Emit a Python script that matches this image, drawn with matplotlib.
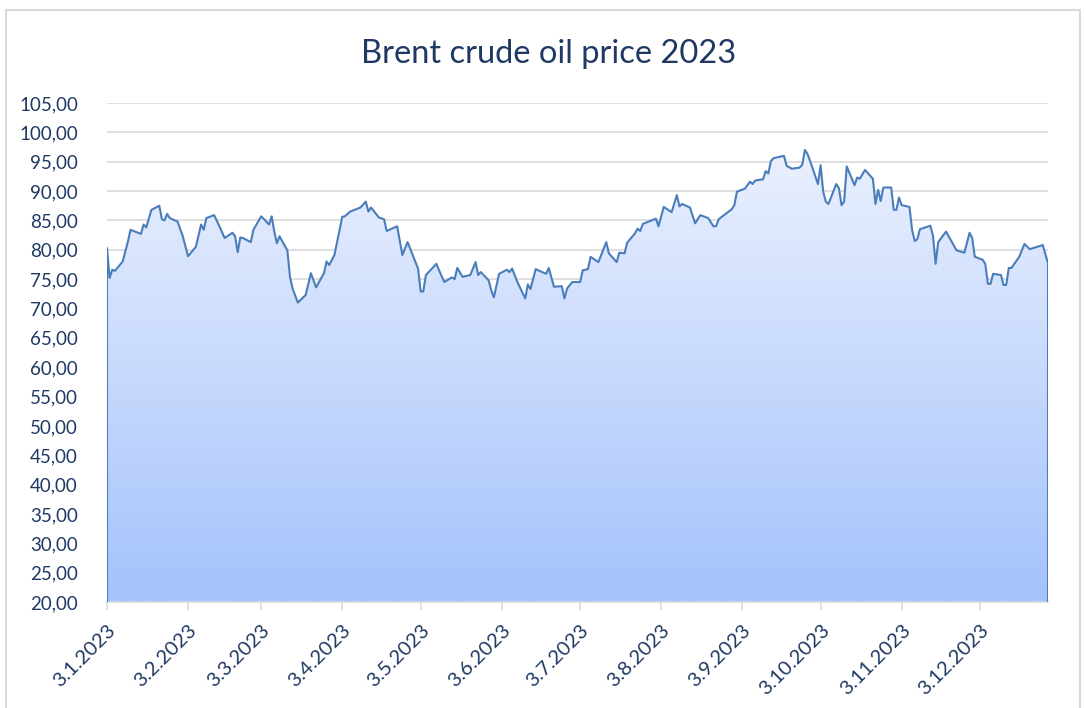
import matplotlib
matplotlib.use('Agg')
import matplotlib.pyplot as plt
import matplotlib.dates as mdates
import matplotlib.patches as mpatches
from matplotlib.colors import LinearSegmentedColormap
import numpy as np
import pandas as pd

plt.rcParams['font.family'] = ['Lato', 'DejaVu Sans']

# === Data ===
dates = [
    '01-03', '01-04', '01-05', '01-06', '01-09', '01-11', '01-12', '01-16', '01-17', '01-18',
    '01-20', '01-23', '01-24', '01-25', '01-26', '01-27', '01-30', '02-01', '02-03', '02-06',
    '02-08', '02-09', '02-10', '02-13', '02-15', '02-17', '02-20', '02-21', '02-22', '02-23',
    '02-24', '02-27', '02-28', '03-03', '03-06', '03-07', '03-08', '03-09', '03-10', '03-13',
    '03-14', '03-15', '03-17', '03-20', '03-22', '03-24', '03-27', '03-28', '03-29', '03-31',
    '04-03', '04-04', '04-06', '04-10', '04-12', '04-13', '04-14', '04-17', '04-19', '04-20',
    '04-24', '04-26', '04-28', '05-02', '05-03', '05-04', '05-05', '05-09', '05-12', '05-15',
    '05-16', '05-17', '05-19', '05-22', '05-24', '05-25', '05-26', '05-29', '05-30', '05-31',
    '06-02', '06-05', '06-06', '06-07', '06-09', '06-12', '06-13', '06-14', '06-16', '06-20',
    '06-21', '06-23', '06-26', '06-27', '06-28', '06-30', '07-03', '07-04', '07-06', '07-07',
    '07-10', '07-13', '07-14', '07-17', '07-18', '07-20', '07-21', '07-24', '07-25', '07-26',
    '07-27', '08-01', '08-02', '08-04', '08-07', '08-09', '08-10', '08-11', '08-14', '08-16',
    '08-18', '08-21', '08-23', '08-24', '08-25', '08-30', '08-31', '09-01', '09-04', '09-06',
    '09-07', '09-08', '09-11', '09-12', '09-13', '09-14', '09-15', '09-19', '09-20', '09-22',
    '09-25', '09-26', '09-27', '09-28', '09-29', '10-02', '10-03', '10-04', '10-05', '10-06',
    '10-09', '10-10', '10-11', '10-12', '10-13', '10-16', '10-17', '10-18', '10-20', '10-23',
    '10-24', '10-25', '10-26', '10-27', '10-30', '10-31', '11-01', '11-02', '11-03', '11-06',
    '11-07', '11-08', '11-09', '11-10', '11-14', '11-15', '11-16', '11-17', '11-20', '11-24',
    '11-27', '11-29', '11-30', '12-01', '12-04', '12-05', '12-06', '12-07', '12-08', '12-11',
    '12-12', '12-13', '12-14', '12-15', '12-18', '12-20', '12-22', '12-27', '12-29',
]
prices = [
    80.3, 75.2, 76.6, 76.4, 78.0, 81.4, 83.4, 82.7, 84.3, 83.8,
    86.8, 87.5, 85.2, 85.0, 86.1, 85.4, 84.8, 82.3, 78.9, 80.5,
    84.3, 83.4, 85.4, 85.9, 84.0, 82.0, 82.9, 82.3, 79.6, 82.1,
    82.0, 81.3, 83.4, 85.7, 84.3, 85.7, 83.1, 81.1, 82.3, 79.9,
    75.4, 73.4, 71.0, 72.3, 76.0, 73.6, 76.0, 78.0, 77.4, 79.1,
    85.6, 85.7, 86.5, 87.2, 88.2, 86.5, 87.2, 85.5, 85.2, 83.2,
    84.0, 79.1, 81.3, 76.8, 72.9, 72.9, 75.7, 77.6, 74.5, 75.3,
    75.0, 76.9, 75.4, 75.7, 77.9, 75.7, 76.2, 74.8, 73.1, 71.9,
    75.9, 76.6, 76.2, 76.8, 74.5, 71.7, 74.1, 73.3, 76.7, 75.9,
    76.9, 73.7, 73.8, 71.7, 73.4, 74.5, 74.5, 76.5, 76.7, 78.8,
    77.9, 81.3, 79.4, 77.9, 79.5, 79.4, 81.2, 82.8, 83.6, 83.2,
    84.4, 85.3, 84.0, 87.3, 86.4, 89.3, 87.4, 87.8, 87.2, 84.5,
    85.9, 85.4, 84.0, 84.0, 85.2, 86.9, 87.6, 89.9, 90.4, 91.6,
    91.2, 91.8, 92.0, 93.4, 93.0, 95.1, 95.6, 96.0, 94.3, 93.8,
    94.0, 94.5, 97.0, 96.3, 95.1, 91.2, 94.4, 89.9, 88.2, 87.8,
    91.2, 90.5, 87.6, 88.2, 94.2, 91.0, 92.3, 92.1, 93.6, 92.1,
    87.8, 90.2, 88.3, 90.6, 90.6, 86.8, 86.8, 88.9, 87.6, 87.3,
    83.4, 81.5, 81.8, 83.5, 84.1, 82.4, 77.6, 81.3, 83.1, 79.9,
    79.5, 82.9, 82.0, 78.8, 78.3, 77.6, 74.2, 74.2, 75.9, 75.7,
    74.0, 74.0, 76.9, 76.9, 78.8, 81.0, 80.1, 80.8, 77.7,
]
tick_dates = ['2023-%02d-03' % m for m in range(1, 13)]
tick_labels = ['3.%d.2023' % m for m in range(1, 13)]
y_ticks = list(range(20, 106, 5))

NAVY = '#1F3864'
LINE = '#4A7EBB'
GRID = '#D9D9D9'

x = mdates.date2num(pd.to_datetime(['2023-' + s for s in dates]))
xt = mdates.date2num(pd.to_datetime(tick_dates))

fig = plt.figure(figsize=(10.86, 7.08), dpi=100)
ax = fig.add_axes([107 / 1086, 106 / 708, (1048 - 107) / 1086, (602 - 103) / 708])

# --- gradient area (light at the series max, blue at the baseline) ---
cmap = LinearSegmentedColormap.from_list('area', ['#EAF0FE', '#A4C2FB'])
grad = np.linspace(0, 1, 256).reshape(-1, 1)
im = ax.imshow(grad, cmap=cmap, aspect='auto', origin='upper',
               extent=[x[0], x[-1], 20, max(prices)], zorder=1)
verts = np.column_stack([np.r_[x, x[-1], x[0]], np.r_[prices, 20, 20]])
clip = mpatches.Polygon(verts, closed=True, facecolor='none', edgecolor='none',
                        transform=ax.transData)
ax.add_patch(clip)
im.set_clip_path(clip)

ax.plot(np.r_[x[0], x, x[-1]], np.r_[20, prices, 20], color=LINE, lw=1.5, zorder=3)

ax.set_xlim(x[0], x[-1])
ax.set_ylim(20, 105)

# --- axes styling ---
for s in ['left', 'top', 'right']:
    ax.spines[s].set_visible(False)
ax.spines['bottom'].set_color(GRID)
ax.spines['bottom'].set_linewidth(1.2)
ax.set_yticks(y_ticks)
ax.set_yticklabels([('%.2f' % v).replace('.', ',') for v in y_ticks])
ax.yaxis.grid(True, color=GRID, lw=1.2)
ax.set_axisbelow(True)
ax.tick_params(axis='y', length=0, pad=21, labelsize=13.5, labelcolor=NAVY)
ax.set_xticks(xt)
ax.set_xticklabels(tick_labels, rotation=45, ha='right', rotation_mode='anchor')
ax.tick_params(axis='x', length=6, width=1.2, color=GRID, pad=8,
               labelsize=14.5, labelcolor=NAVY)

# --- title & border ---
fig.text(549 / 1086, 1 - 63 / 708, 'Brent crude oil price 2023', ha='center', va='baseline',
         fontsize=23.5, color=NAVY)
fig.add_artist(mpatches.Rectangle((6 / 1086, -0.02), (1080 - 6) / 1086, 1 - 10 / 708 + 0.02,
                                  transform=fig.transFigure, fill=False,
                                  edgecolor=GRID, lw=1.5))

fig.savefig('out.png', dpi=100, facecolor='white')
plt.close(fig)
